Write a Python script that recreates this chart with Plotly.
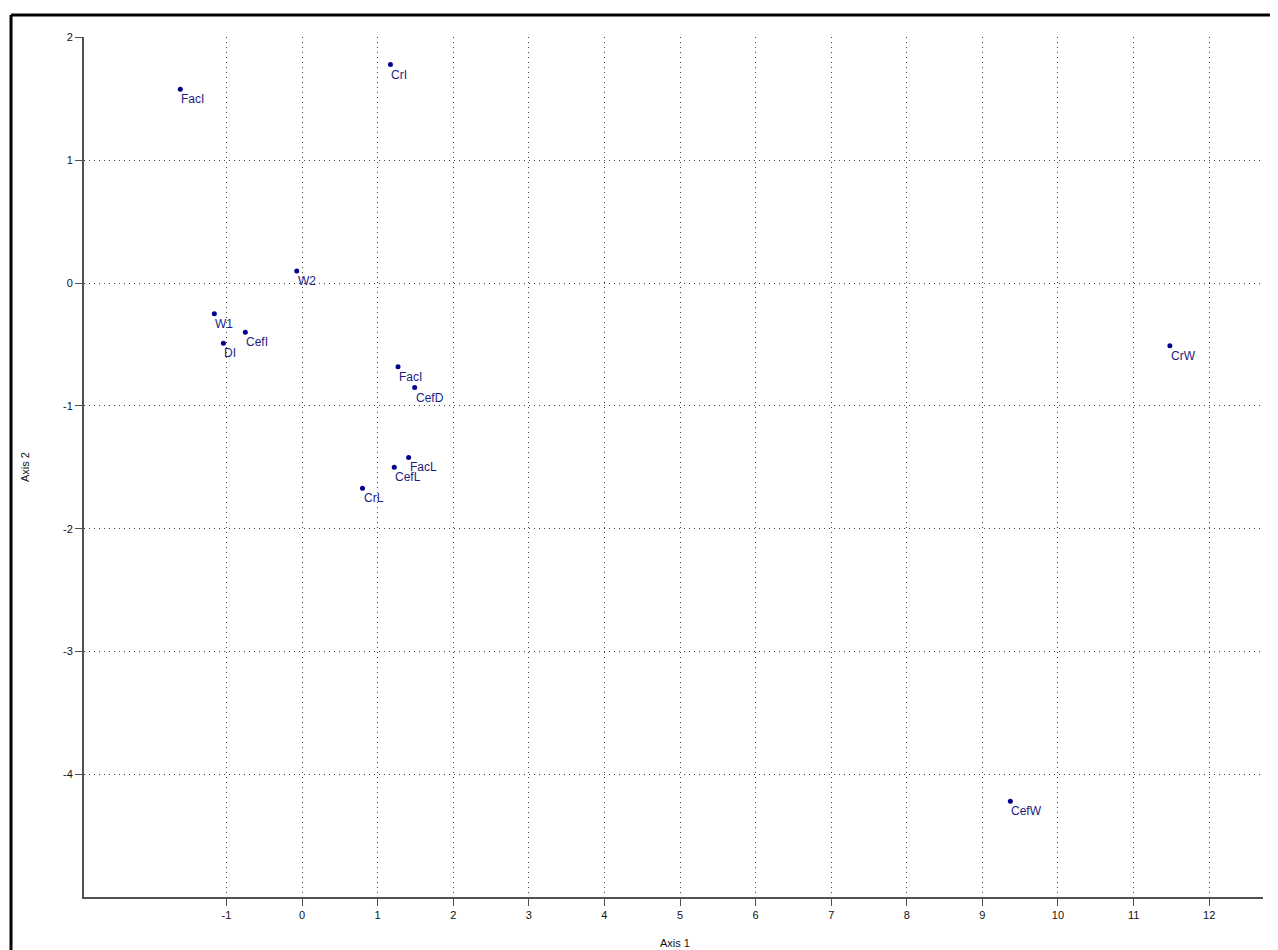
import plotly.graph_objects as go

labels = ["FacI", "CrI", "W2", "W1", "CefI", "DI", "FacI", "CefD", "FacL", "CefL", "CrL", "CrW", "CefW"]
axis1 = [-1.61, 1.17, -0.07, -1.16, -0.75, -1.04, 1.27, 1.49, 1.41, 1.22, 0.80, 11.48, 9.37]
axis2 = [1.58, 1.78, 0.10, -0.25, -0.40, -0.49, -0.68, -0.85, -1.42, -1.50, -1.67, -0.51, -4.22]

x_ticks = list(range(-1, 13))
y_ticks = [2, 1, 0, -1, -2, -3, -4]

FONT = "Liberation Sans, Arial, sans-serif"
PT_COLOR = "#00008b"
TXT_COLOR = "#1c1c80"

fig = go.Figure()
fig.add_trace(go.Scatter(
    x=axis1, y=axis2, mode="markers",
    marker=dict(size=5, color=PT_COLOR),
    hoverinfo="text", text=labels, showlegend=False,
))

for lx, ly, lt in zip(axis1, axis2, labels):
    fig.add_annotation(x=lx, y=ly, text=lt, showarrow=False,
                       xanchor="left", yanchor="top", xshift=-1, yshift=-1,
                       font=dict(family=FONT, size=12, color=TXT_COLOR))

axis_common = dict(
    showline=True, linecolor="#505050", linewidth=2,
    ticks="outside", ticklen=7, tickwidth=1, tickcolor="#505050",
    showgrid=True, gridcolor="#404040", gridwidth=1, griddash="1px,4px",
    zeroline=False, tickfont=dict(family=FONT, size=11, color="#111111"),
    mirror=False,
)

fig.update_xaxes(range=[-2.884, 12.712], tickmode="array", tickvals=x_ticks,
                 ticktext=[str(v) for v in x_ticks], **axis_common)
fig.update_yaxes(range=[-5.0, 2.005], tickmode="array", tickvals=y_ticks,
                 ticktext=[str(v) for v in y_ticks], **axis_common)

# axis titles
fig.add_annotation(xref="paper", yref="paper", x=0.501, y=-0.0535, text="Axis 1",
                   showarrow=False, xanchor="center", yanchor="middle",
                   font=dict(family=FONT, size=11, color="#111111"))
fig.add_annotation(xref="paper", yref="paper", x=-0.05, y=0.5, text="Axis 2",
                   showarrow=False, xanchor="center", yanchor="middle", textangle=-90,
                   font=dict(family=FONT, size=11, color="#111111"))

# outer frame (left and top edges visible)
fig.add_shape(type="line", xref="paper", yref="paper", x0=-0.0619, x1=-0.0619, y0=-0.1, y1=1.0256,
              line=dict(color="black", width=3))
fig.add_shape(type="line", xref="paper", yref="paper", x0=-0.0619, x1=1.05, y0=1.0256, y1=1.0256,
              line=dict(color="black", width=3))

fig.update_layout(
    width=1270, height=942,
    margin=dict(l=76, r=15, t=29, b=53),
    paper_bgcolor="white", plot_bgcolor="white",
    font=dict(family=FONT, size=11),
)

fig.write_html("out.html")
